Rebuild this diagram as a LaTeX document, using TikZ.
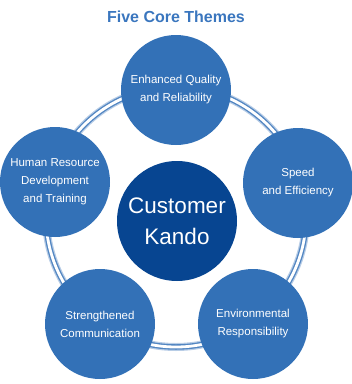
\documentclass[tikz,border=0pt]{standalone}
\usepackage{fontspec}
\setmainfont{Liberation Sans}
\usepackage{xcolor}
\usepackage{tikz}

\definecolor{themeblue}{HTML}{3371B7}
\definecolor{coreblue}{HTML}{074591}
\definecolor{titleblue}{HTML}{3A76BE}

\tikzset{
  theme/.style={circle, fill=themeblue, text=white, minimum size=110pt, inner sep=0pt,
    align=center, font=\fontsize{11.5}{18}\selectfont},
  core/.style={circle, fill=coreblue, text=white, minimum size=120pt, inner sep=0pt,
    align=center, font=\fontsize{22.5}{31}\selectfont}
}

\begin{document}
\begin{tikzpicture}[x=1pt, y=-1pt]
            \useasboundingbox (0,0) rectangle (352,384);

            % Title
            \node[text=titleblue, font=\fontsize{16}{18}\selectfont\bfseries] (title) at (176,17) {Five Core Themes};

            % Ring
            \coordinate (hub) at (176,217);
            \draw[line width=8pt, themeblue!35] (hub) circle (130);
            \draw[line width=5.5pt, themeblue!85] (hub) circle (130);
            \draw[line width=2.8pt, white] (hub) circle (130);

            % Themes
            \node[theme] (quality) at (176,90) {Enhanced Quality\\and Reliability};
            \node[theme] (speed) at (298,183) {Speed\\and Efficiency};
            \node[theme] (environment) at (253,324) {Environmental\\Responsibility};
            \node[theme] (communication) at (100,324) {Strengthened\\Communication};
            \node[theme] (people) at (55,182) {Human Resource\\Development\\and Training};

            % Core
            \node[core] (kando) at (177,221) {Customer\\Kando};
        \end{tikzpicture}
\end{document}
